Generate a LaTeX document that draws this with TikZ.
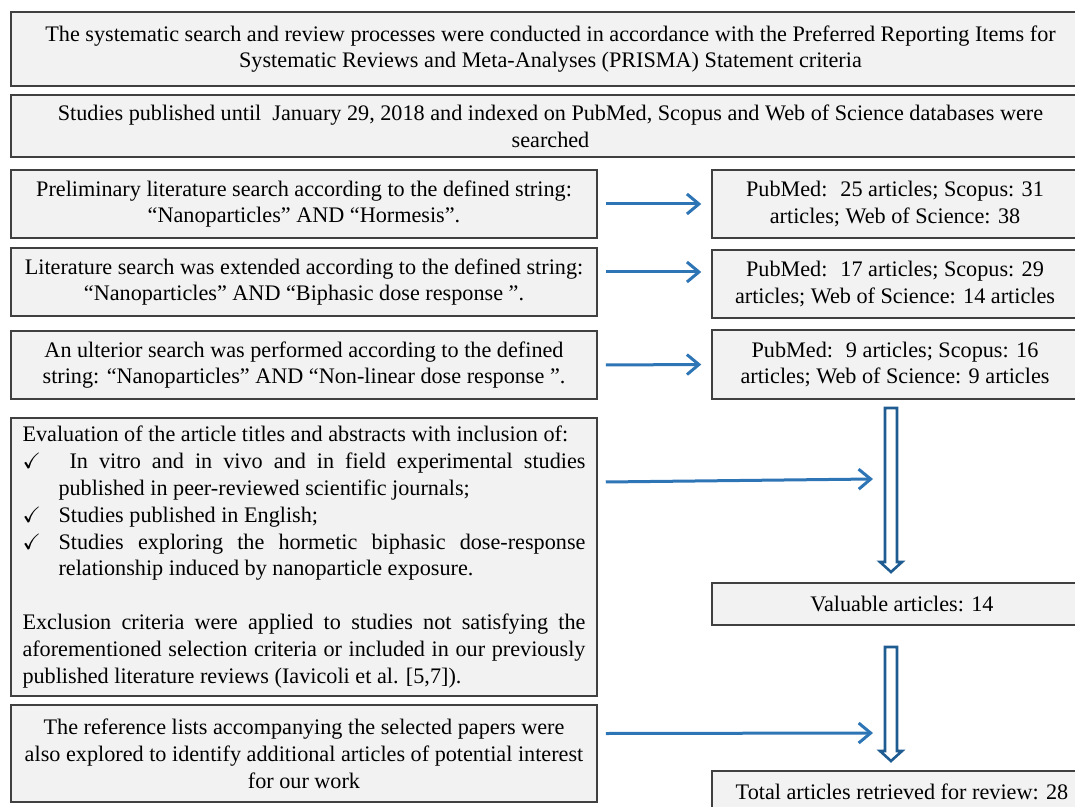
\documentclass[tikz,border=0pt]{standalone}
\usepackage{amssymb}
\usepackage{fontspec}
\setmainfont{Liberation Serif}
\usetikzlibrary{arrows.meta}
\usetikzlibrary{calc}
\definecolor{boxfill}{HTML}{F2F2F2}
\definecolor{boxline}{HTML}{404040}
\definecolor{arrowblue}{HTML}{2E75B6}
\definecolor{hollowblue}{HTML}{1F5C91}
\tikzset{
  stagebox/.style={rectangle, draw=boxline, fill=boxfill, line width=0.75pt, inner sep=0pt, align=center, font=\fontsize{11.1}{13.4}\selectfont},
  flowarrow/.style={draw=arrowblue, line width=1.5pt, -{Straight Barb[length=6pt,width=10pt]}},
  hollow/.style={draw=hollowblue, line width=1.3pt, fill=white, line join=miter},
}
\newcommand\checkline[1]{\hangindent=18pt\hangafter=1\noindent\makebox[18pt][l]{$\checkmark$}#1\par}
\newcommand\hollowarrow[2]{
  \draw[hollow] let \p1=(#1), \p2=(#2) in
    (\x1-3pt,\y1) -- (\x1+3pt,\y1) -- (\x1+3pt,\y2+5pt) -- (\x1+5.5pt,\y2+5pt)
    -- (\x1,\y2) -- (\x1-5.5pt,\y2+5pt) -- (\x1-3pt,\y2+5pt) -- cycle;
}

\begin{document}
\begin{tikzpicture}[x=0.5pt, y=-0.5pt]
    \useasboundingbox (0,0) rectangle (1075,807);

    \node[stagebox, minimum width=539.5pt, minimum height=37pt] (prisma) at (550.5,49) {The systematic search and review processes were conducted in accordance with the Preferred Reporting Items for\\ Systematic Reviews and Meta-Analyses (PRISMA) Statement criteria};
    \node[stagebox, minimum width=539.5pt, minimum height=31pt] (searched) at (550.5,126) {Studies published until \ January 29, 2018 and indexed on PubMed, Scopus and Web of Science databases were\\ searched};

    \node[stagebox, minimum width=293pt, minimum height=34pt] (prelim) at (304,204) {Preliminary literature search according to the defined string:\\ “Nanoparticles” AND “Hormesis”.};
    \node[stagebox, minimum width=293pt, minimum height=34pt] (extended) at (304,282) {Literature search was extended according to the defined string:\\ “Nanoparticles” AND “Biphasic dose response ”.};
    \node[stagebox, minimum width=293pt, minimum height=34pt] (ulterior) at (304,365) {An ulterior search was performed according to the defined\\ string: “Nanoparticles” AND “Non-linear dose response ”.};

    \node[stagebox, minimum width=183pt, minimum height=34pt] (hormesis) at (895,204) {PubMed: \ 25 articles; Scopus: 31\\ articles; Web of Science: 38};
    \node[stagebox, minimum width=183pt, minimum height=34pt] (biphasic) at (895,284) {PubMed: \ 17 articles; Scopus: 29\\ articles; Web of Science: 14 articles};
    \node[stagebox, minimum width=183pt, minimum height=34.5pt] (nonlinear) at (895,364.5) {PubMed: \ 9 articles; Scopus: 16\\ articles; Web of Science: 9 articles};

    \node[stagebox, minimum width=293pt, minimum height=139pt, text width=281.5pt, align=justify] (criteria) at (304,557) {Evaluation of the article titles and abstracts with inclusion of:\par
      \checkline{\ In vitro and in vivo and in field experimental studies\linebreak published in peer-reviewed scientific journals;}
      \checkline{Studies published in English;}
      \checkline{Studies exploring the hormetic biphasic dose-response\linebreak relationship induced by nanoparticle exposure.}
      \vspace{\baselineskip}
      \noindent Exclusion criteria were applied to studies not satisfying the\linebreak aforementioned selection criteria or included in our previously\linebreak published literature reviews (Iavicoli et al. [5,7]).};
    \node[stagebox, minimum width=293pt, minimum height=48.5pt] (reflists) at (304,753.5) {The reference lists accompanying the selected papers were\\ also explored to identify additional articles of potential interest\\ for our work};

    \node[stagebox, minimum width=190pt, minimum height=21pt] (valuable) at (902,604) {Valuable articles: 14};
    \node[stagebox, minimum width=190pt, minimum height=21pt] (total) at (902,792) {Total articles retrieved for review: 28};

    % free ends of the long arrows
    \coordinate (critend) at (873,479);
    \coordinate (refend) at (873,733);
    \coordinate (h1top) at (891,408);
    \coordinate (h1tip) at (891,572);
    \coordinate (h2top) at (891,647);
    \coordinate (h2tip) at (891,761);

    \draw[flowarrow] ([xshift=4pt]prelim.east) -- ([xshift=-5pt]hormesis.west);
    \draw[flowarrow] ([xshift=4pt,yshift=5pt]extended.east) -- ([xshift=-5pt,yshift=6pt]biphasic.west);
    \draw[flowarrow] ([xshift=4pt]ulterior.east) -- ([xshift=-5pt]nonlinear.west);
    \draw[flowarrow] ([xshift=4pt,yshift=37.5pt]criteria.east) -- (critend);
    \draw[flowarrow] ([xshift=4pt,yshift=10pt]reflists.east) -- (refend);

    \hollowarrow{h1top}{h1tip}
    \hollowarrow{h2top}{h2tip}
\end{tikzpicture}
\end{document}
